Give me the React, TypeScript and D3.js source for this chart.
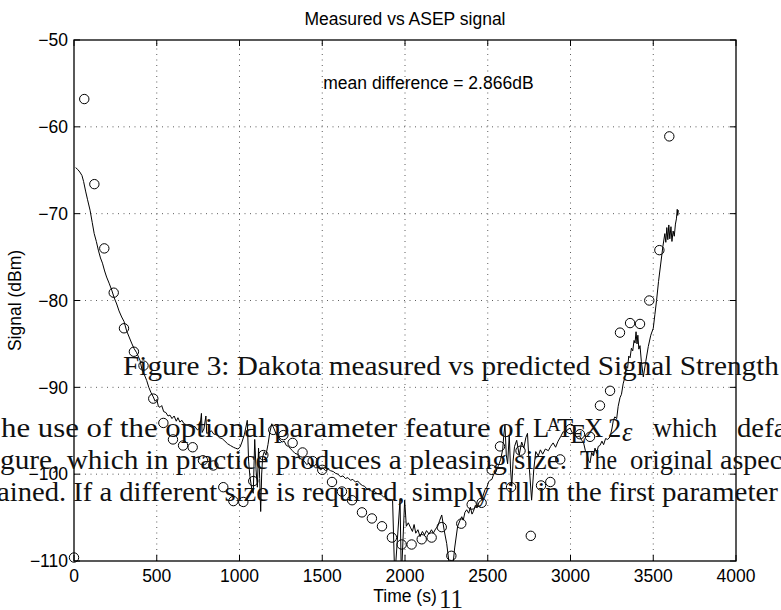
import React from 'react'
import * as d3 from 'd3'

// measured samples (open circles)
const measuredTime = [0, 62, 123, 183, 240, 302, 362, 420, 479, 540, 598, 659, 717, 779, 842, 902, 963, 1023, 1083, 1144, 1204, 1265, 1321, 1381, 1442, 1500, 1559, 1619, 1680, 1740, 1800, 1861, 1921, 1980, 2040, 2101, 2161, 2222, 2280, 2340, 2403, 2463, 2524, 2574, 2641, 2698, 2760, 2822, 2878, 2938, 3000, 3057, 3118, 3178, 3239, 3299, 3360, 3420, 3476, 3537, 3597]
const measuredSignal = [-109.6, -56.8, -66.6, -74.0, -79.1, -83.2, -85.9, -87.5, -91.3, -94.1, -96.0, -96.7, -96.9, -98.4, -99.0, -101.5, -103.1, -103.2, -100.8, -97.8, -94.9, -95.5, -96.4, -97.5, -98.5, -99.5, -100.9, -102.0, -103.0, -104.4, -105.1, -106.0, -107.3, -108.1, -108.1, -107.5, -107.3, -106.1, -109.4, -105.7, -103.5, -103.3, -99.5, -96.8, -101.5, -97.3, -107.1, -101.3, -100.9, -98.3, -94.8, -95.4, -95.7, -92.1, -90.4, -83.7, -82.6, -82.7, -80.0, -74.2, -61.1]

// ASEP prediction (solid line)
const asepTime = [
  10, 22, 35, 48, 58, 70, 82, 97, 110, 122, 135, 147, 160, 172, 185, 197, 212, 228, 243, 258,
  272, 288, 302, 318, 333, 348, 362, 378, 390, 399, 410, 422, 439, 452, 465, 479, 490, 500, 510, 520,
  530, 542, 555, 568, 580, 592, 605, 618, 628, 640, 652, 665, 678, 690, 701, 715, 730, 745, 760, 770,
  774, 785, 797, 802, 815, 830, 845, 862, 878, 895, 912, 928, 945, 963, 975, 990, 1003, 1015, 1030, 1047,
  1055, 1063, 1075, 1083, 1092, 1100, 1108, 1115, 1122, 1128, 1134, 1140, 1150, 1160, 1172, 1183, 1195, 1207, 1220, 1232,
  1245, 1258, 1270, 1283, 1295, 1305, 1320, 1335, 1350, 1365, 1380, 1395, 1406, 1420, 1430, 1445, 1460, 1475, 1490, 1505,
  1520, 1535, 1550, 1567, 1580, 1595, 1610, 1625, 1640, 1655, 1670, 1685, 1700, 1715, 1728, 1742, 1756, 1770, 1785, 1800,
  1815, 1830, 1845, 1858, 1869, 1880, 1895, 1910, 1925, 1938, 1970, 1978, 1998, 2008, 2020, 2032, 2045, 2055, 2065, 2078,
  2091, 2105, 2118, 2130, 2145, 2160, 2171, 2185, 2198, 2210, 2222, 2237, 2252, 2268, 2282, 2300, 2318, 2335, 2343, 2352,
  2362, 2373, 2385, 2395, 2405, 2413, 2425, 2435, 2448, 2463, 2473, 2483, 2495, 2505, 2514, 2525, 2534, 2545, 2554, 2565,
  2578, 2590, 2597, 2604, 2612, 2620, 2630, 2638, 2645, 2653, 2662, 2675, 2690, 2705, 2718, 2730, 2740, 2752, 2765, 2778,
  2790, 2805, 2818, 2832, 2848, 2866, 2880, 2895, 2910, 2925, 2940, 2956, 2968, 2980, 2997, 3010, 3025, 3040, 3055, 3067,
  3078, 3090, 3100, 3108, 3118, 3128, 3138, 3148, 3158, 3168, 3178, 3190, 3200, 3212, 3225, 3239, 3250, 3259, 3268, 3279,
  3288, 3299, 3308, 3318, 3329, 3337, 3345, 3352, 3360, 3368, 3376, 3384, 3390, 3396, 3402, 3407, 3413, 3420, 3428, 3440,
  3455, 3470, 3485, 3500, 3510, 3520, 3532, 3545, 3558, 3570, 3576, 3582, 3588, 3594, 3600, 3607, 3613, 3620, 3627, 3634,
  3640, 3645, 3648, 3652
]
const asepSignal = [
  -64.7, -64.9, -65.2, -65.6, -66.3, -67.4, -68.4, -69.6, -71.0, -72.3, -73.2, -74.2, -75.1, -75.7, -76.6, -77.3, -78.0, -78.8, -79.7, -80.4,
  -81.2, -81.9, -82.4, -83.5, -84.2, -84.9, -85.5, -86.0, -86.5, -86.9, -87.9, -88.4, -89.2, -90.0, -90.6, -91.1, -91.6, -91.4, -92.2, -92.3,
  -92.1, -92.8, -92.9, -93.3, -93.2, -93.6, -93.3, -93.9, -93.5, -94.0, -93.8, -94.2, -94.3, -94.4, -94.5, -94.6, -94.5, -94.9, -94.7, -93.0,
  -95.2, -94.8, -93.3, -95.3, -95.2, -95.0, -95.4, -95.4, -95.8, -95.9, -96.2, -96.5, -96.7, -96.9, -97.0, -97.1, -96.9, -96.3, -95.4, -93.8,
  -98.5, -100.3, -101.8, -102.2, -96.0, -99.5, -101.5, -97.0, -100.5, -104.3, -100.0, -98.0, -97.4, -97.8, -96.6, -95.2, -94.2, -94.7, -95.3, -95.7,
  -96.1, -96.3, -96.2, -96.7, -96.8, -97.0, -97.3, -97.6, -97.7, -98.2, -98.3, -98.6, -98.9, -98.7, -99.1, -99.0, -99.3, -99.2, -99.5, -99.3,
  -99.6, -99.4, -99.6, -99.7, -99.9, -100.0, -100.3, -100.2, -100.5, -100.4, -100.7, -100.6, -100.9, -100.8, -101.1, -101.3, -101.4, -101.7, -101.7, -102.0,
  -102.0, -102.2, -102.3, -102.4, -102.6, -102.6, -102.9, -102.9, -103.0, -112, -103.0, -112, -103.0, -106.0, -105.6, -106.1, -106.6, -105.8, -106.8, -106.4,
  -107.2, -106.6, -107.0, -106.5, -106.9, -106.4, -106.8, -106.3, -106.0, -105.3, -104.7, -106.5, -108.0, -110.5, -112, -108.5, -106.0, -105.2, -104.9, -105.3,
  -104.4, -104.1, -104.5, -103.8, -104.6, -104.3, -103.6, -103.9, -103.2, -103.0, -102.4, -101.8, -101.5, -100.9, -100.7, -100.6, -100.1, -99.8, -99.5, -99.0,
  -98.3, -97.2, -95.5, -94.3, -97.8, -98.8, -95.5, -99.5, -101.4, -98.5, -96.8, -96.1, -97.8, -96.3, -97.0, -95.8, -95.3, -99.5, -103.0, -99.5,
  -97.4, -97.9, -97.2, -97.7, -97.1, -97.3, -96.8, -96.4, -96.9, -96.2, -95.7, -95.1, -95.3, -94.9, -94.7, -95.2, -95.5, -95.7, -95.6, -96.1,
  -96.3, -97.3, -97.6, -98.4, -98.7, -97.5, -97.9, -97.0, -97.6, -96.8, -96.7, -96.2, -96.6, -95.9, -96.0, -95.7, -94.8, -93.8, -93.4, -93.6,
  -92.2, -91.2, -90.8, -89.6, -88.8, -87.6, -87.8, -86.4, -86.6, -85.5, -85.8, -84.6, -84.9, -83.6, -85.0, -84.0, -85.6, -85.2, -87.0, -88.8,
  -87.0, -85.3, -84.0, -83.2, -81.6, -80.0, -77.8, -75.8, -73.8, -72.3, -73.3, -71.6, -73.0, -71.3, -72.9, -71.5, -73.2, -72.0, -72.6, -71.2,
  -70.6, -69.5, -70.2, -69.6
]

const xTicks = [0, 500, 1000, 1500, 2000, 2500, 3000, 3500, 4000]
const yTicks = [-110, -100, -90, -80, -70, -60, -50]

const titleText = 'Measured vs ASEP signal'
const noteText = 'mean difference = 2.866dB'
const xLabel = 'Time (s)'
const yLabel = 'Signal (dBm)'

// LaTeX page text showing through the figure
const pageLines = [
  { text: 'Figure 3: Dakota measured vs predicted Signal Strength', x: 123, y: 375, w: 656 },
  { text: 'he use of the optional parameter feature of', x: 1, y: 437, w: 523 },
  { text: 'which', x: 653, y: 437, w: 64 },
  { text: 'defaults', x: 737, y: 437, w: 91 },
  { text: 'gure, which in practice produces a pleasing size.', x: 0, y: 469, w: 567 },
  { text: 'The', x: 580, y: 469, w: 37 },
  { text: 'original', x: 630, y: 469, w: 83 },
  { text: 'aspect', x: 720, y: 469, w: 70 },
  { text: 'ained. If a different size is required, simply fill in the first', x: -3, y: 501, w: 658 },
  { text: 'parameter', x: 662, y: 501, w: 116 },
  { text: '11', x: 439, y: 608, w: 24 }
]

const W = 781
const H = 610
const margin = { top: 40, right: 45, bottom: 49, left: 74 }
const sans = 'Liberation Sans, Arial, Helvetica, sans-serif'
const serif = 'Liberation Serif, Times New Roman, serif'

export default function App() {
  const x = d3.scaleLinear().domain([0, 4000]).range([margin.left, W - margin.right])
  const y = d3.scaleLinear().domain([-110, -50]).range([H - margin.bottom, margin.top])

  const asep = d3.zip(asepTime, asepSignal) as [number, number][]
  const measured = d3.zip(measuredTime, measuredSignal) as [number, number][]

  const line = d3.line<[number, number]>()
    .x(d => x(d[0]))
    .y(d => y(d[1]))

  const [x0, x1] = x.range()
  const [y0, y1] = y.range() // y0 bottom, y1 top
  const cx = (x0 + x1) / 2

  return (
    <div style={{ position: 'absolute', left: 0, top: 0 }}>
      <svg width={W} height={H} style={{ display: 'block', background: '#fff', overflow: 'hidden' }}>
        <defs>
          <clipPath id="plot-area">
            <rect x={x0} y={y1} width={x1 - x0} height={y0 - y1} />
          </clipPath>
        </defs>

        {/* grid */}
        <g stroke="#333" strokeWidth={0.8} strokeDasharray="1,4.5">
          {xTicks.slice(1, -1).map(t => (
            <line key={'gx' + t} x1={x(t)} x2={x(t)} y1={y0} y2={y1} />
          ))}
          {yTicks.slice(1, -1).map(t => (
            <line key={'gy' + t} x1={x0} x2={x1} y1={y(t)} y2={y(t)} />
          ))}
        </g>

        {/* prediction */}
        <path d={line(asep) ?? ''} fill="none" stroke="#000" strokeWidth={1} clipPath="url(#plot-area)" />

        {/* measured */}
        <g fill="none" stroke="#000" strokeWidth={1}>
          {measured.map((d, i) => (
            <circle key={i} cx={x(d[0])} cy={y(d[1])} r={4.7} />
          ))}
        </g>

        {/* axes box and ticks */}
        <rect x={x0} y={y1} width={x1 - x0} height={y0 - y1} fill="none" stroke="#000" strokeWidth={1.3} />
        <g stroke="#000" strokeWidth={1}>
          {xTicks.map(t => (
            <g key={'tx' + t}>
              <line x1={x(t)} x2={x(t)} y1={y0} y2={y0 - 6} />
              <line x1={x(t)} x2={x(t)} y1={y1} y2={y1 + 6} />
            </g>
          ))}
          {yTicks.map(t => (
            <g key={'ty' + t}>
              <line x1={x0} x2={x0 + 6} y1={y(t)} y2={y(t)} />
              <line x1={x1} x2={x1 - 6} y1={y(t)} y2={y(t)} />
            </g>
          ))}
        </g>

        <g fontFamily={sans} fontSize={17.5} fill="#000">
          {xTicks.map(t => (
            <text key={'lx' + t} x={x(t)} y={582} textAnchor="middle">{t}</text>
          ))}
          {yTicks.map(t => (
            <text key={'ly' + t} x={x0 - 6} y={y(t) + 6.3} textAnchor="end">
              {t < 0 ? '\u2212' + Math.abs(t) : t}
            </text>
          ))}
          <text x={cx} y={25} textAnchor="middle">{titleText}</text>
          <text x={x(1500) + 1} y={y(-55) + 6} textAnchor="start">{noteText}</text>
          <text x={cx} y={602} textAnchor="middle">{xLabel}</text>
          <text transform={`translate(21, ${(y0 + y1) / 2}) rotate(-90)`} textAnchor="middle">{yLabel}</text>
        </g>

        {/* page text overlay */}
        <g fontFamily={serif} fontSize={26.5} fill="#111">
          {pageLines.map((l, i) => (
            <text key={i} x={l.x} y={l.y} textLength={l.w} lengthAdjust="spacingAndGlyphs">{l.text}</text>
          ))}
          <text x={533} y={437}>L</text>
          <text x={547} y={431} fontSize={18.5}>A</text>
          <text x={557} y={437}>T</text>
          <text x={570} y={443}>E</text>
          <text x={584} y={437}>X</text>
          <text x={608} y={437}>2</text>
          <text x={622} y={441} fontStyle="italic">ε</text>
        </g>
      </svg>
    </div>
  )
}
